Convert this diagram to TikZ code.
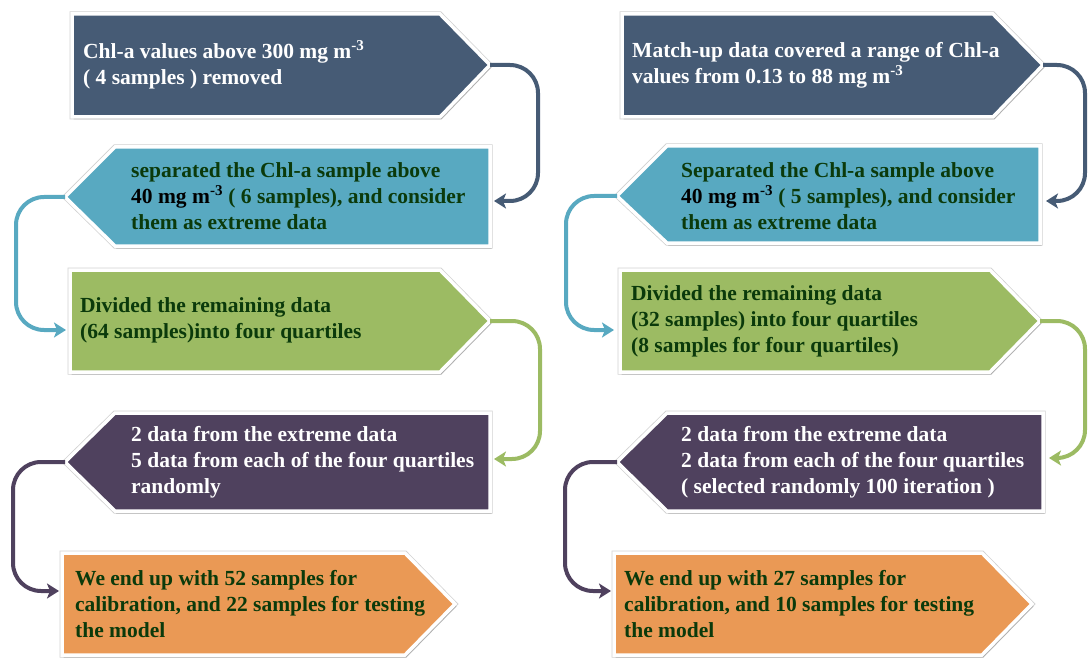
\documentclass[tikz,border=0pt]{standalone}
\usepackage{fontspec}
\setmainfont{Liberation Serif}
\usetikzlibrary{arrows.meta,shadows}

\definecolor{slate}{HTML}{465B75}
\definecolor{teal}{HTML}{58A9C1}
\definecolor{olive}{HTML}{9CBB63}
\definecolor{plum}{HTML}{4F415E}
\definecolor{amber}{HTML}{EA9955}
\definecolor{ink}{HTML}{0B3A0B}

\tikzset{
  panel/.style={draw=white, line width=3.5pt, line join=miter,
    preaction={draw=black!18, line width=5pt},
    drop shadow={opacity=0.35, fill=black!60, shadow xshift=1.5pt, shadow yshift=-2.5pt}},
  label/.style={anchor=west, align=left, inner sep=0pt,
    font=\fontsize{21.5}{26}\selectfont\bfseries},
  link/.style={line width=4pt, rounded corners=28pt,
    -{Stealth[length=12pt,width=15pt,inset=3pt]}},
}

\begin{document}
\begin{tikzpicture}[x=1pt,y=-1pt]
\useasboundingbox (0,0) rectangle (1088,658);

% ---------------- left column ----------------
\fill[slate, panel] (72,14) -- (440,14) -- (490,65) -- (440,117) -- (72,117) -- cycle;
\coordinate (L1tip) at (490,65);
\node[label, text=white] (L1) at (83,65)
  {Chl-a values above 300 mg m\textsuperscript{-3}\\( 4 samples ) removed};

\fill[teal, panel] (65,197) -- (115,147) -- (490,147) -- (490,246) -- (115,246) -- cycle;
\coordinate (L2tip) at (65,197);
\coordinate (L2in) at (494,201);
\node[label, text=ink] (L2) at (131,196)
  {separated the Chl-a sample above\\{\color{black}40 mg m\textsuperscript{-3}} ( 6 samples), and consider\\them as extreme data};

\fill[olive, panel] (70,270) -- (440,270) -- (490,321) -- (440,372) -- (70,372) -- cycle;
\coordinate (L3tip) at (490,321);
\coordinate (L3in) at (66,330);
\node[label, text=ink] (L3) at (80,320)
  {Divided the remaining data\\(64 samples)into four quartiles};

\fill[plum, panel] (65,462) -- (115,413) -- (490,413) -- (490,511) -- (115,511) -- cycle;
\coordinate (L4tip) at (65,462);
\coordinate (L4in) at (494,459);
\node[label, text=white] (L4) at (131,462)
  {2 data from the extreme data\\5 data from each of the four quartiles\\randomly};

\fill[amber, panel] (62,553) -- (405,553) -- (455,604) -- (405,655) -- (62,655) -- cycle;
\coordinate (L5in) at (59,591);
\node[label, text=ink] (L5) at (75,604)
  {We end up with 52 samples for\\calibration, and 22 samples for testing\\the model};

% ---------------- right column ----------------
\fill[slate, panel] (622,14) -- (993,14) -- (1043,65) -- (993,117) -- (622,117) -- cycle;
\coordinate (R1tip) at (1043,65);
\node[label, text=white] (R1) at (632,65)
  {Match-up data covered a range of Chl-a\\values from 0.13 to 88 mg m\textsuperscript{-3}};

\fill[teal, panel] (617,196) -- (667,146) -- (1040,146) -- (1040,243) -- (667,243) -- cycle;
\coordinate (R2tip) at (617,196);
\coordinate (R2in) at (1046,201);
\node[label, text=ink] (R2) at (681,196)
  {Separated the Chl-a sample above\\{\color{black}40 mg m\textsuperscript{-3}} ( 5 samples), and consider\\them as extreme data};

\fill[olive, panel] (620,270) -- (990,270) -- (1040,321) -- (990,372) -- (620,372) -- cycle;
\coordinate (R3tip) at (1040,321);
\coordinate (R3in) at (614,330);
\node[label, text=ink] (R3) at (631,321)
  {Divided the remaining data\\(32 samples) into four quartiles\\(8 samples for four quartiles)};

\fill[plum, panel] (617,462) -- (667,413) -- (1043,413) -- (1043,511) -- (667,511) -- cycle;
\coordinate (R4tip) at (617,462);
\coordinate (R4in) at (1049,458);
\node[label, text=white] (R4) at (681,462)
  {2 data from the extreme data\\2 data from each of the four quartiles\\( selected randomly 100 iteration )};

\fill[amber, panel] (614,553) -- (982,553) -- (1032,604) -- (982,655) -- (614,655) -- cycle;
\coordinate (R5in) at (611,591);
\node[label, text=ink] (R5) at (624,604)
  {We end up with 27 samples for\\calibration, and 10 samples for testing\\the model};

% ---------------- connectors ----------------
\draw[link, slate] (L1tip) -| (538,201) -- (L2in);
\draw[link, teal]  (L2tip) -| (16,330) -- (L3in);
\draw[link, olive] (L3tip) -| (540,459) -- (L4in);
\draw[link, plum]  (L4tip) -| (13,591) -- (L5in);

\draw[link, slate] (R1tip) -| (1085,201) -- (R2in);
\draw[link, teal]  (R2tip) -| (566,330) -- (R3in);
\draw[link, olive] (R3tip) -| (1085,458) -- (R4in);
\draw[link, plum]  (R4tip) -| (565,591) -- (R5in);
\end{tikzpicture}
\end{document}
